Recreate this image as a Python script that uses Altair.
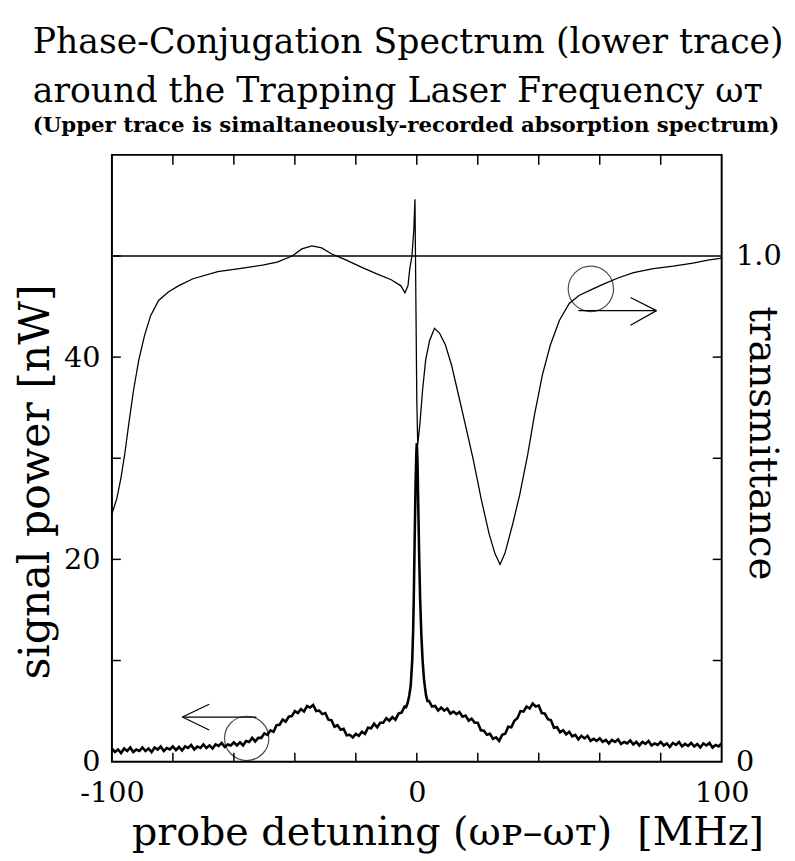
import altair as alt
import pandas as pd

# ---------------- data ----------------
# upper trace: transmittance vs probe detuning (MHz)
trans_x = [-100, -98.4, -97.1, -95.8, -94.5, -92.9, -91.2, -89.3, -87.3, -84.7,
           -81.5, -78.2, -73.4, -65.3, -57.1, -50.6, -45.8, -40.9, -37.7, -34.4,
           -31.2, -27.9, -23.1, -18.2, -13.3, -8.4, -5.2, -3.9, -2.9, -2.3,
           -1.6, -1.0, -0.6, -0.3, 0.0, 0.3, 1.0, 1.9, 2.9, 4.2,
           5.8, 7.5, 9.4, 11.4, 13.3, 15.9, 18.5, 21.1, 23.7, 25.6,
           27.3, 28.9, 31.5, 33.8, 36.4, 38.6, 41.2, 43.8, 46.8, 50.0,
           53.2, 57.1, 61.4, 66.2, 71.1, 77.6, 84.1, 90.6, 95.5, 100]
trans_y = [0.49, 0.52, 0.559, 0.608, 0.667, 0.735, 0.794, 0.843, 0.882, 0.912,
           0.929, 0.941, 0.955, 0.969, 0.976, 0.982, 0.988, 1.0, 1.014, 1.02,
           1.016, 1.004, 0.992, 0.978, 0.965, 0.953, 0.941, 0.927, 0.941, 0.975,
           1.0, 1.049, 1.112, 0.912, 0.716, 0.627, 0.667, 0.735, 0.794, 0.833,
           0.857, 0.847, 0.824, 0.784, 0.735, 0.667, 0.598, 0.52, 0.451, 0.412,
           0.39, 0.412, 0.471, 0.529, 0.608, 0.686, 0.765, 0.824, 0.873, 0.906,
           0.922, 0.933, 0.945, 0.957, 0.967, 0.975, 0.98, 0.986, 0.992, 0.996]

# lower trace: phase-conjugate signal power (nW)
sig_left_x = list(range(-100, -3))
sig_left_y = [1.3, 0.95, 1.2, 0.85, 1.3, 1.05, 1.4, 0.95, 1.2, 1.05,
              1.4, 1.05, 1.3, 0.95, 1.4, 1.2, 1.5, 1.05, 1.35, 1.2,
              1.5, 1.15, 1.45, 1.1, 1.5, 1.35, 1.65, 1.2, 1.5, 1.35,
              1.7, 1.35, 1.6, 1.3, 1.7, 1.55, 1.85, 1.45, 1.7, 1.6,
              1.9, 1.6, 1.9, 1.6, 2.05, 1.95, 2.35, 2.0, 2.35, 2.35,
              2.8, 2.65, 3.1, 2.95, 3.6, 3.65, 4.15, 3.95, 4.45, 4.5,
              5.0, 4.8, 5.2, 4.95, 5.5, 5.35, 5.6, 5.0, 5.05, 4.7,
              4.8, 4.15, 4.1, 3.45, 3.6, 3.15, 3.25, 2.6, 2.65, 2.4,
              2.75, 2.55, 2.95, 2.75, 3.35, 3.3, 3.75, 3.4, 3.85, 3.85,
              4.3, 4.05, 4.4, 4.15, 4.75, 4.85, 5.45]
sig_mid_x = [-3.5, -3, -2.5, -2, -1.5, -1.2, -1.0, -0.7, -0.4, -0.15,
             0, 0.2, 0.5, 0.8, 1.1, 1.5, 1.9, 2.4, 3, 3.5]
sig_mid_y = [5.4, 5.8, 6.5, 7.5, 10, 13, 16, 22, 27.5, 30.5,
             31.5, 30, 25, 20, 16, 12.5, 10, 8, 6.6, 6.0]
sig_right_x = list(range(4, 101))
sig_right_y = [6.0, 5.45, 5.5, 5.05, 5.35, 5.05, 5.25, 4.75, 4.95, 4.7,
               4.9, 4.45, 4.55, 4.05, 4.25, 3.85, 3.85, 3.1, 3.05, 2.65,
               2.75, 2.25, 2.4, 2.05, 2.65, 2.75, 3.45, 3.4, 4.05, 4.3,
               5.0, 4.95, 5.45, 5.25, 5.75, 5.45, 5.55, 4.8, 4.75, 4.2,
               4.1, 3.35, 3.4, 2.9, 3.1, 2.7, 2.95, 2.5, 2.65, 2.2,
               2.55, 2.3, 2.55, 2.05, 2.25, 2.05, 2.3, 1.95, 2.15, 1.8,
               2.15, 1.95, 2.2, 1.75, 1.95, 1.8, 2.1, 1.7, 1.95, 1.6,
               1.95, 1.75, 2.05, 1.6, 1.8, 1.65, 1.95, 1.6, 1.8, 1.45,
               1.85, 1.65, 1.95, 1.5, 1.75, 1.55, 1.85, 1.5, 1.75, 1.4,
               1.8, 1.6, 1.85, 1.4, 1.65, 1.5, 1.8]

# reference line, ticks, labels
unity_level = [1.0]
x_tick_values = [-80, -60, -40, -20, 0, 20, 40, 60, 80]
x_label_values = [-100, 0, 100]
left_tick_values = [10, 20, 30, 40, 50]
left_label_values = [0, 20, 40]
right_tick_values = [0.2, 0.4, 0.6, 0.8]
right_label_values = [0, 1.0]

# annotation circles and arrows (data coordinates)
sig_circle_x, sig_circle_y = [-55.8], [2.3]
sig_arrow_seg = [0, 0, 1, 1, 2, 2]
sig_arrow_x = [-52.6, -76.9, -76.9, -68.1, -76.9, -68.1]
sig_arrow_y = [4.41, 4.41, 4.41, 5.68, 4.41, 3.13]
tr_circle_x, tr_circle_y = [57.1], [0.935]
tr_arrow_seg = [0, 0, 1, 1, 2, 2]
tr_arrow_x = [53.0, 78.6, 78.6, 70.1, 78.6, 70.1]
tr_arrow_y = [0.892, 0.892, 0.892, 0.918, 0.892, 0.863]

# ---------------- chart ----------------
W, H = 616, 613
FONT = "DejaVu Serif"

x_scale = alt.Scale(domain=[-100, 100], nice=False, zero=False)
sig_scale = alt.Scale(domain=[0, 60], nice=False, zero=False)
tr_scale = alt.Scale(domain=[0, 1.2], nice=False, zero=False)

axis_style = dict(labelFont=FONT, titleFont=FONT, labelColor="black",
                  titleColor="black", titleFontWeight="normal", grid=False,
                  ticks=False, domain=False, labelFontSize=29, labelFlush=False)

# x is shared by every layer: the axis is defined once, other layers only name the scale
X = alt.X("x:Q", scale=x_scale)

sig_df = pd.DataFrame({"x": sig_left_x + sig_mid_x + sig_right_x,
                       "y": sig_left_y + sig_mid_y + sig_right_y})
tr_df = pd.DataFrame({"x": trans_x, "y": trans_y})

sig_line = alt.Chart(sig_df).mark_line(color="black", strokeWidth=2.6, clip=True).encode(
    x=alt.X("x:Q", scale=x_scale,
            axis=alt.Axis(values=x_label_values, orient="bottom",
                          labelExpr="datum.value == -100 ? '-100' : datum.label",
                          title="probe detuning (ωᴘ–ωᴛ)\u00a0\u00a0[MHz]",
                          labelPadding=17, titlePadding=6, titleFontSize=40,
                          titleX=339, **axis_style)),
    y=alt.Y("y:Q", scale=sig_scale,
            axis=alt.Axis(orient="left", values=left_label_values,
                          title="signal power [nW]", labelPadding=12,
                          titlePadding=6, titleFontSize=43, titleY=330,
                          **axis_style)),
)

sig_circle = alt.Chart(pd.DataFrame({"x": sig_circle_x, "y": sig_circle_y})).mark_point(
    shape="circle", filled=False, color="black", size=2000, strokeWidth=1.2
).encode(x=X, y=alt.Y("y:Q", scale=sig_scale, axis=None))

sig_arrow = alt.Chart(pd.DataFrame({"seg": sig_arrow_seg, "x": sig_arrow_x, "y": sig_arrow_y})).mark_line(
    color="black", strokeWidth=1.2
).encode(x=X, y=alt.Y("y:Q", scale=sig_scale, axis=None),
         detail="seg:N", order=alt.Order("x:Q"))

left_ticks = alt.Chart(pd.DataFrame({"y": left_tick_values})).mark_rule(
    color="black", strokeWidth=1.5
).encode(y=alt.Y("y:Q", scale=sig_scale, axis=None),
         x=alt.value(0), x2=alt.value(9))

top_ticks = alt.Chart(pd.DataFrame({"x": x_tick_values})).mark_rule(
    color="black", strokeWidth=1.5
).encode(x=X, y=alt.value(0), y2=alt.value(10))

bottom_ticks = alt.Chart(pd.DataFrame({"x": x_tick_values})).mark_rule(
    color="black", strokeWidth=1.5
).encode(x=X, y=alt.value(H), y2=alt.value(H - 9))

tr_line = alt.Chart(tr_df).mark_line(color="black", strokeWidth=1.3, clip=True).encode(
    x=X,
    y=alt.Y("y:Q", scale=tr_scale,
            axis=alt.Axis(orient="right", values=right_label_values,
                          labelExpr="datum.value == 1 ? '1.0' : '0'",
                          title="transmittance", labelPadding=14,
                          titleFontSize=39, titleX=20, titleY=291,
                          **axis_style)),
)

unity = alt.Chart(pd.DataFrame({"y": unity_level})).mark_rule(
    color="black", strokeWidth=1.5
).encode(y=alt.Y("y:Q", scale=tr_scale, axis=None))

tr_circle = alt.Chart(pd.DataFrame({"x": tr_circle_x, "y": tr_circle_y})).mark_point(
    shape="circle", filled=False, color="black", size=2100, strokeWidth=1.2
).encode(x=X, y=alt.Y("y:Q", scale=tr_scale, axis=None))

tr_arrow = alt.Chart(pd.DataFrame({"seg": tr_arrow_seg, "x": tr_arrow_x, "y": tr_arrow_y})).mark_line(
    color="black", strokeWidth=1.2
).encode(x=X, y=alt.Y("y:Q", scale=tr_scale, axis=None),
         detail="seg:N", order=alt.Order("x:Q"))

right_ticks = alt.Chart(pd.DataFrame({"y": right_tick_values})).mark_rule(
    color="black", strokeWidth=1.5
).encode(y=alt.Y("y:Q", scale=tr_scale, axis=None),
         x=alt.value(W - 9), x2=alt.value(W))

chart = alt.layer(
    sig_line, tr_line, unity, sig_circle, sig_arrow, tr_circle, tr_arrow,
    left_ticks, right_ticks, top_ticks, bottom_ticks,
).resolve_scale(y="independent").properties(
    width=W, height=H,
    autosize=alt.AutoSizeParams(type="none"),
    padding={"left": 105, "top": 144, "right": 66, "bottom": 96},
    title=alt.TitleParams(
        text=["Phase-Conjugation Spectrum (lower trace)",
              "around the Trapping Laser Frequency ωᴛ"],
        subtitle="(Upper trace is simaltaneously-recorded absorption spectrum)",
        anchor="start", frame="group", dx=-80, offset=18,
        font=FONT, fontSize=35, fontWeight="normal", lineHeight=50, color="black",
        subtitleFont=FONT, subtitleFontSize=21.5, subtitleFontWeight="bold",
        subtitleColor="black", subtitlePadding=6,
    ),
).configure_view(stroke="black", strokeWidth=2)

chart.save("out.html", embed_options={"renderer": "svg", "actions": False})
